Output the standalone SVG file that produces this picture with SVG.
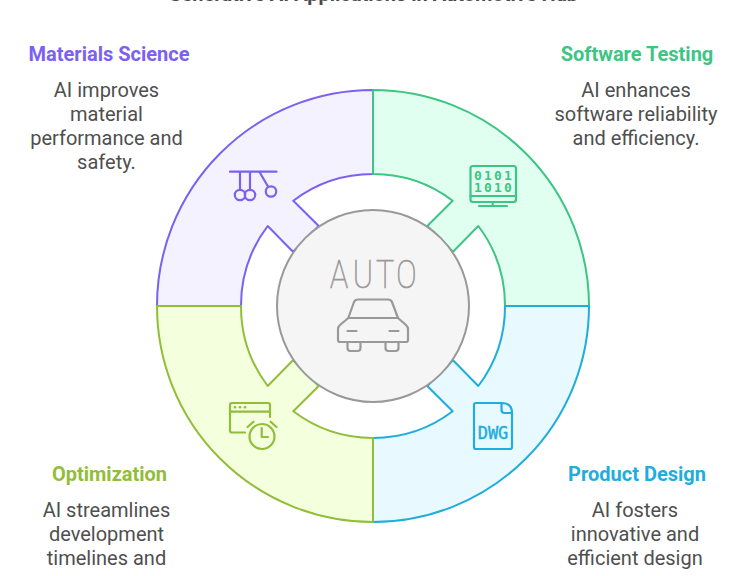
<svg xmlns="http://www.w3.org/2000/svg" width="752" height="576" viewBox="0 0 752 576">
<style>
text{font-family:Roboto,"Liberation Sans",sans-serif;text-anchor:middle}
.t{font-size:20px;font-weight:700;fill:#4a4a4a}
.h{font-size:20px;font-weight:700}
.b{font-size:20px;fill:#4f4f4f}
.i{fill:none;stroke-width:2.200;stroke-linecap:round;stroke-linejoin:round}
.m{font-family:"DejaVu Sans Mono",monospace;font-weight:700}
.pu{stroke:#7B61EE}.gr{stroke:#3CC583}.bl{stroke:#1EADDC}.li{stroke:#92BD39}
.s{stroke-width:2;stroke-linejoin:round}
</style>
<rect width="752" height="576" fill="#fff"/>
<text class="t" x="373" y="1">Generative AI Applications in Automotive Hub</text>
<g id="connectors">
<path class="s pu" fill="#F4F2FF" d="M373 90A216 216 0 0 0 157 306H241A132 132 0 0 1 267.700 226L293 251.700L318.700 226L293.300 200.700A132 132 0 0 1 373 174Z"/>
<path class="s gr" fill="#E1FFF1" d="M373 90A216 216 0 0 1 589 306H505A132 132 0 0 0 478.300 226L453 251.700L427.300 226L452.700 200.700A132 132 0 0 0 373 174Z"/>
<path class="s bl" fill="#E8F9FF" d="M373 522A216 216 0 0 0 589 306H505A132 132 0 0 1 478.300 386L453 360.300L427.300 386L452.700 411.300A132 132 0 0 1 373 438Z"/>
<path class="s li" fill="#F4FFDD" d="M373 522A216 216 0 0 1 157 306H241A132 132 0 0 0 267.700 386L293 360.300L318.700 386L293.300 411.300A132 132 0 0 0 373 438Z"/>
</g>
<g id="hub">
<circle cx="373" cy="306" r="96" fill="#F5F5F5" stroke="#999" stroke-width="2"/>
<text transform="translate(0 288) scale(.8 1)" x="423.750 453.750 481.250 508" y="0" style="font-size:38px;font-weight:100;fill:#999;stroke:#999;stroke-width:.7">AUTO</text>
<g class="i" stroke="#999">
<path d="M348.300 318L354 302Q355 299.500 358 299.500H388Q391 299.500 392 302L398 318"/>
<path d="M348.300 318H398L406 325Q408 327 408 329V340Q408 342 406 342H340Q338 342 338 340V329Q338 327 340 325Z"/>
<path d="M347.500 331H356.500M389.500 331H398.500"/>
<path d="M347.500 342V348Q347.500 351 350.500 351H357.500Q360.500 351 360.500 348V342M385.500 342V348Q385.500 351 388.500 351H395.500Q398.500 351 398.500 348V342"/>
</g>
</g>
<g id="materials-science">
<text class="h" x="109" y="61" fill="#7B61EE">Materials Science</text>
<text class="b" x="106.500" y="97">AI improves</text>
<text class="b" x="106.500" y="121">material</text>
<text class="b" x="106.500" y="145">performance and</text>
<text class="b" x="106.500" y="169">safety.</text>
<g class="i pu">
<path d="M230 171.700H276.500M240 172V189.500M250 172V189.500M259.500 172L268 186.500"/>
<circle cx="240" cy="195" r="5.200"/><circle cx="250" cy="195" r="5.200"/><circle cx="271" cy="191.500" r="5.200"/>
</g>
</g>
<g id="software-testing">
<text class="h" x="637" y="61" fill="#3CC583">Software Testing</text>
<text class="b" x="636" y="97">AI enhances</text>
<text class="b" x="636" y="121">software reliability</text>
<text class="b" x="636" y="145">and efficiency.</text>
<g class="i gr">
<rect x="470.500" y="166" width="45.500" height="36" rx="2.500"/>
<path d="M470.500 196H516M492.700 202V205.500M479 206H507"/>
</g>
<text class="m" font-size="13" fill="#3CC583"><tspan x="478 488 498 508" y="180">0101</tspan><tspan x="478 488 498 508" y="192">1010</tspan></text>
</g>
<g id="product-design">
<text class="h" x="637" y="481" fill="#1EADDC">Product Design</text>
<text class="b" x="635" y="517">AI fosters</text>
<text class="b" x="635" y="541">innovative and</text>
<text class="b" x="635" y="565">efficient design</text>
<g class="i bl">
<path d="M501.500 403H476Q474 403 474 405V447Q474 449 476 449H510Q512 449 512 447V413Q512 403 501.500 403V410Q501.500 413 504.500 413H512"/>
</g>
<text x="493" y="439" font-size="17" fill="#1EADDC" stroke="#1EADDC" stroke-width=".4" style="font-family:'DejaVu Sans Mono',monospace">DWG</text>
</g>
<g id="optimization">
<text class="h" x="109.500" y="481" fill="#92BD39">Optimization</text>
<text class="b" x="106.500" y="517">AI streamlines</text>
<text class="b" x="106.500" y="541">development</text>
<text class="b" x="106.500" y="565">timelines and</text>
<g class="i li">
<path d="M245 432.500H232Q230 432.500 230 430.500V405Q230 403 232 403H268Q270 403 270 405V417M230 411.700H270"/>
<path d="M261.700 428V437H268M247.500 427L253.500 421.700M270.700 421.700L276.500 427"/>
<circle cx="262" cy="436.500" r="12.500"/>
</g>
<g fill="#92BD39"><circle cx="235" cy="407.300" r="1.300"/><circle cx="240" cy="407.300" r="1.300"/><circle cx="245" cy="407.300" r="1.300"/></g>
</g>
</svg>
